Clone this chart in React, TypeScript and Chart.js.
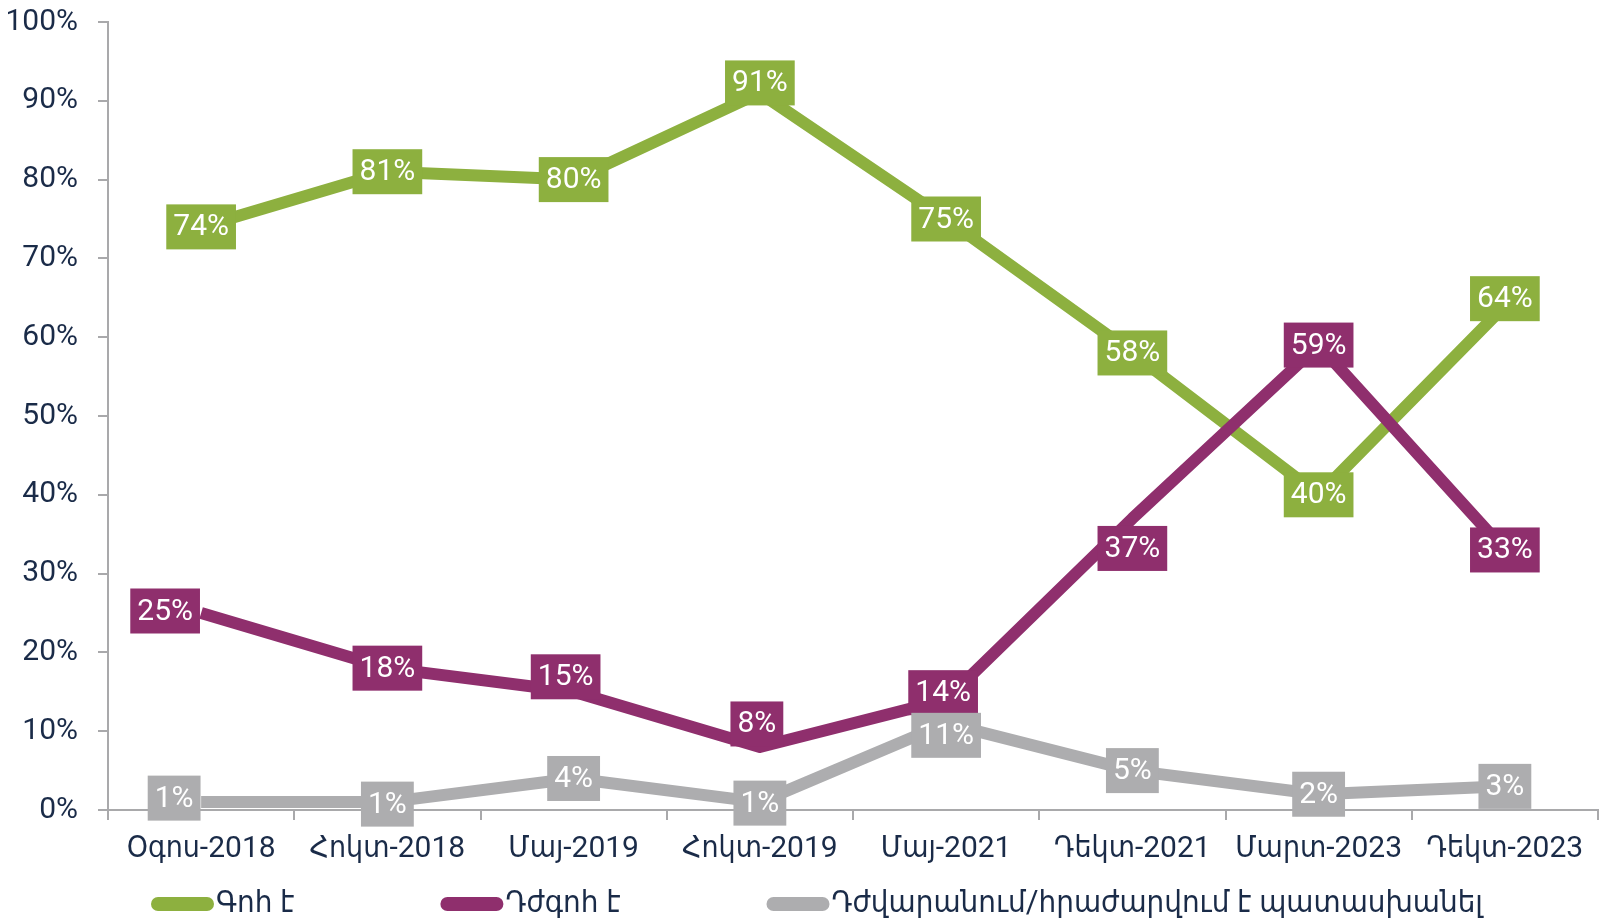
import { useEffect, useRef } from 'react';
import { Chart, registerables } from 'chart.js';

Chart.register(...registerables);

const categories = ['Օգոս-2018', 'Հոկտ-2018', 'Մայ-2019', 'Հոկտ-2019', 'Մայ-2021', 'Դեկտ-2021', 'Մարտ-2023', 'Դեկտ-2023'];
const seriesNames = ['Գոհ է', 'Դժգոհ է', 'Դժվարանում/հրաժարվում է պատասխանել'];
const satisfied = [74, 81, 80, 91, 75, 58, 40, 64];
const dissatisfied = [25, 18, 15, 8, 14, 37, 59, 33];
const noAnswer = [1, 1, 4, 1, 11, 5, 2, 3];
const yTickValues = [0, 10, 20, 30, 40, 50, 60, 70, 80, 90, 100];

// label nudges (px) relative to each point, as placed in the original
const satisfiedLabelShift = [[0, 0], [0, 0], [0, 0], [0, -10], [0, 0], [0, 0], [0, 0], [0, -7]];
const dissatisfiedLabelShift = [[-36, -2], [0, 0], [-8, -15], [-3, -23], [-3, -7], [0, 30], [0, 0], [0, 0]];
const noAnswerLabelShift = [[-27, -4], [0, 2], [0, 0], [0, 1], [0, 12], [0, 0], [0, 0], [0, 0]];

const GREEN = '#8DB03F';
const PURPLE = '#8F2F6D';
const GRAY = '#ADADAF';
const NAVY = '#1A2B48';
const AXIS = '#A9A9AB';
const FAMILY = "Roboto, 'DejaVu Sans Condensed', sans-serif";
const FONT_SIZE = 30;

const shifts = [satisfiedLabelShift, dissatisfiedLabelShift, noAnswerLabelShift];
const colors = [GREEN, PURPLE, GRAY];

const labelPlugin = {
  id: 'boxLabels',
  afterDatasetsDraw(chart: any) {
    const ctx = chart.ctx;
    ctx.save();
    ctx.font = `${FONT_SIZE}px ${FAMILY}`;
    ctx.textAlign = 'center';
    ctx.textBaseline = 'middle';
    chart.data.datasets.forEach((ds: any, i: number) => {
      const meta = chart.getDatasetMeta(i);
      meta.data.forEach((pt: any, j: number) => {
        const txt = `${ds.data[j]}%`;
        const w = ctx.measureText(txt).width + 14;
        const h = 45;
        const x = pt.x + shifts[i][j][0];
        const y = pt.y + shifts[i][j][1];
        ctx.fillStyle = colors[i];
        ctx.fillRect(x - w / 2, y - h / 2, w, h);
        ctx.fillStyle = '#FFFFFF';
        ctx.fillText(txt, x, y + 1);
      });
    });
    ctx.restore();
  },
};

const legendPlugin = {
  id: 'customLegend',
  afterDraw(chart: any) {
    const ctx = chart.ctx;
    ctx.save();
    ctx.font = `31px ${FAMILY}`;
    ctx.textAlign = 'left';
    ctx.textBaseline = 'middle';
    let x = 151;
    const y = 904;
    seriesNames.forEach((name, i) => {
      ctx.fillStyle = colors[i];
      ctx.beginPath();
      (ctx as any).roundRect(x, y - 7, 63, 14, 7);
      ctx.fill();
      ctx.fillStyle = NAVY;
      ctx.fillText(name, x + 65, y);
      x += 65 + ctx.measureText(name).width + 146;
    });
    ctx.restore();
  },
};

export default function App() {
  const ref = useRef<HTMLCanvasElement | null>(null);
  useEffect(() => {
    if (!ref.current) return;
    const chart = new Chart(ref.current, {
      type: 'line',
      data: {
        labels: categories,
        datasets: [
          { label: seriesNames[0], data: satisfied, borderColor: GREEN, backgroundColor: GREEN, order: 1 },
          { label: seriesNames[1], data: dissatisfied, borderColor: PURPLE, backgroundColor: PURPLE, order: 0 },
          { label: seriesNames[2], data: noAnswer, borderColor: GRAY, backgroundColor: GRAY, order: 2 },
        ].map((d) => ({
          ...d,
          borderWidth: 12,
          pointRadius: 0,
          pointHoverRadius: 0,
          tension: 0,
          borderJoinStyle: 'round' as const,
          fill: false,
        })),
      },
      options: {
        animation: false,
        responsive: true,
        maintainAspectRatio: false,
        layout: { padding: { top: 22, right: 2, left: 0, bottom: 0 } },
        plugins: {
          legend: { display: false },
          tooltip: { enabled: false },
        },
        scales: {
          x: {
            offset: true,
            grid: {
              offset: true,
              drawOnChartArea: false,
              drawTicks: true,
              tickLength: 10,
              color: AXIS,
              lineWidth: 2,
            },
            border: { color: AXIS, width: 2 },
            ticks: {
              color: NAVY,
              font: { family: FAMILY, size: FONT_SIZE },
              padding: 11,
              autoSkip: false,
              maxRotation: 0,
            },
            afterFit(scale: any) {
              scale.height = 113;
              scale.paddingLeft = 0;
              scale.paddingRight = 0;
            },
          },
          y: {
            min: 0,
            max: 100,
            afterBuildTicks(scale: any) {
              scale.ticks = yTickValues.map((v) => ({ value: v }));
            },
            grid: {
              drawOnChartArea: false,
              drawTicks: true,
              tickLength: 10,
              color: AXIS,
              lineWidth: 2,
            },
            border: { color: AXIS, width: 2 },
            ticks: {
              color: NAVY,
              font: { family: FAMILY, size: FONT_SIZE },
              padding: 20,
              callback: (v: any) => `${v}%`,
            },
            afterFit(scale: any) {
              scale.width = 108;
              scale.paddingTop = 0;
              scale.paddingBottom = 0;
            },
          },
        },
      },
      plugins: [labelPlugin, legendPlugin],
    });
    return () => chart.destroy();
  }, []);
  return (
    <div style={{ position: 'absolute', left: 0, top: 0, width: 1600, height: 923, background: '#FFFFFF' }}>
      <canvas ref={ref} />
    </div>
  );
}
